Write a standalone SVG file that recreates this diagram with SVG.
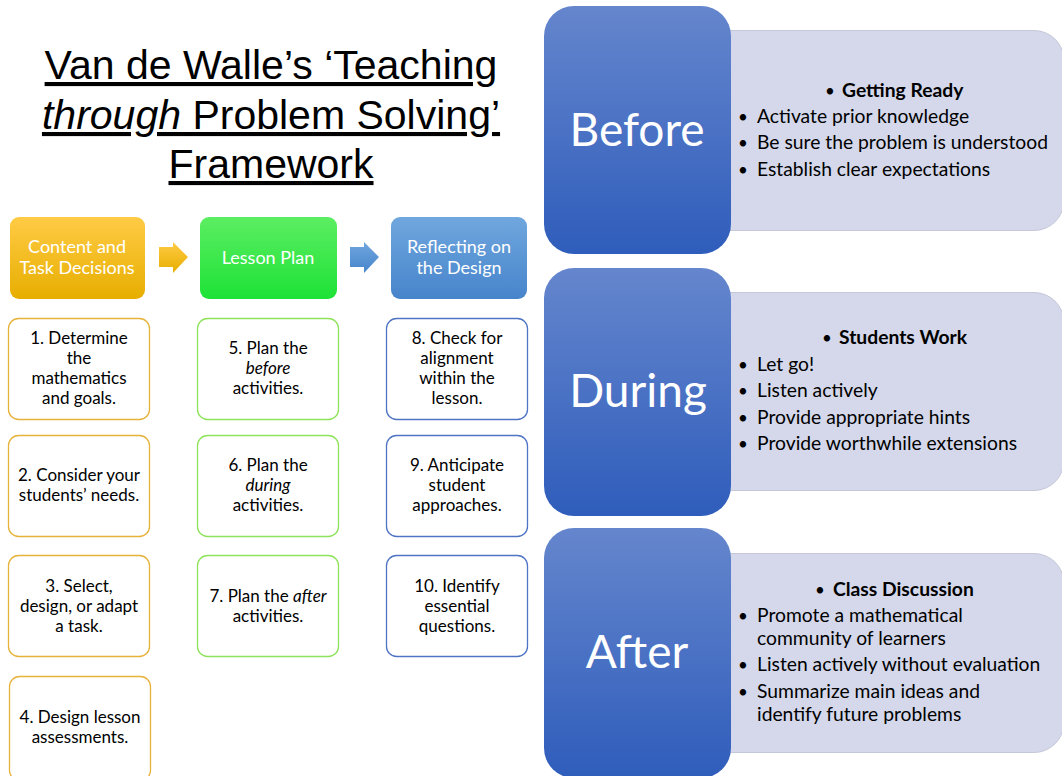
<svg xmlns="http://www.w3.org/2000/svg" width="1062" height="776" viewBox="0 0 1062 776">
<defs>
<linearGradient id="gY" x1="0" y1="0" x2="0" y2="1"><stop offset="0" stop-color="#ffcb45"/><stop offset="1" stop-color="#e7ae00"/></linearGradient>
<linearGradient id="gG" x1="0" y1="0" x2="0" y2="1"><stop offset="0" stop-color="#5cee62"/><stop offset="1" stop-color="#1de236"/></linearGradient>
<linearGradient id="gB" x1="0" y1="0" x2="0" y2="1"><stop offset="0" stop-color="#70a7de"/><stop offset="1" stop-color="#4684cb"/></linearGradient>
<linearGradient id="gD" x1="0" y1="0" x2="0" y2="1"><stop offset="0" stop-color="#6586cd"/><stop offset="1" stop-color="#2f5dbb"/></linearGradient>
<style>
.title{font-family:"Liberation Sans",Arial,sans-serif;font-size:41px;fill:#000;text-anchor:middle;text-decoration:underline}
.hd{font-family:Lato,"Open Sans",sans-serif;font-size:18px;fill:#fff;text-anchor:middle}
.bx{font-family:Lato,"Open Sans",sans-serif;font-size:17px;fill:#000;text-anchor:middle}
.cy{fill:#fff;stroke:#e6b23a;stroke-width:1.3}
.cg{fill:#fff;stroke:#8ee35c;stroke-width:1.3}
.cb{fill:#fff;stroke:#4f74c4;stroke-width:1.3}
.blue{fill:url(#gD)}
.panel{fill:#d4d8ea;stroke:#c4c8d8;stroke-width:1}
.big{font-family:Lato,"Open Sans",sans-serif;font-size:46px;fill:#fff;text-anchor:middle}
.pt{font-family:Lato,"Open Sans",sans-serif;font-size:19.3px;fill:#000}
.ph{font-family:Lato,"Open Sans",sans-serif;font-size:19.3px;font-weight:bold;fill:#000}
.bl{font-family:Lato,"Open Sans",sans-serif;font-size:17px;fill:#000}
</style>
</defs>
<rect width="1062" height="776" fill="#fff"/>

<g id="title">
<text class="title" x="271" y="79">Van de Walle’s ‘Teaching</text>
<text class="title" x="271" y="129"><tspan font-style="italic">through</tspan> Problem Solving’</text>
<text class="title" x="271" y="178">Framework</text>
</g>

<g id="connectors">
<path d="M159,247 H173 V242 L188,257 L173,273 V267 H159 Z" fill="url(#gY)"/>
<path d="M350,247 H364 V242 L379,257 L364,273 V267 H350 Z" fill="url(#gB)"/>
</g>

<g id="h-content">
<rect x="10" y="217" width="135" height="82" rx="9" fill="url(#gY)"/>
<text class="hd" x="77" y="253">Content and</text>
<text class="hd" x="77" y="274">Task Decisions</text>
</g>
<g id="h-lesson">
<rect x="200" y="217" width="137" height="82" rx="9" fill="url(#gG)"/>
<text class="hd" x="268" y="264">Lesson Plan</text>
</g>
<g id="h-reflect">
<rect x="391" y="217" width="136" height="82" rx="9" fill="url(#gB)"/>
<text class="hd" x="459" y="253">Reflecting on</text>
<text class="hd" x="459" y="274">the Design</text>
</g>

<g id="step1"><rect class="cy" x="8.5" y="318.5" width="141" height="101" rx="10"/>
<text class="bx" x="79" y="344">1. Determine</text><text class="bx" x="79" y="364">the</text><text class="bx" x="79" y="384">mathematics</text><text class="bx" x="79" y="404">and goals.</text></g>
<g id="step2"><rect class="cy" x="8.5" y="435.5" width="141" height="101" rx="10"/>
<text class="bx" x="79" y="481">2. Consider your</text><text class="bx" x="79" y="501">students’ needs.</text></g>
<g id="step3"><rect class="cy" x="8.5" y="555.5" width="141" height="101" rx="10"/>
<text class="bx" x="79" y="592">3. Select,</text><text class="bx" x="79" y="612">design, or adapt</text><text class="bx" x="79" y="632">a task.</text></g>
<g id="step4"><rect class="cy" x="9.5" y="676.5" width="141" height="104" rx="10"/>
<text class="bx" x="80" y="723">4. Design lesson</text><text class="bx" x="80" y="743">assessments.</text></g>

<g id="step5"><rect class="cg" x="197.5" y="318.5" width="141" height="101" rx="10"/>
<text class="bx" x="268" y="354">5. Plan the</text><text class="bx" x="268" y="374" font-style="italic">before</text><text class="bx" x="268" y="394">activities.</text></g>
<g id="step6"><rect class="cg" x="197.5" y="435.5" width="141" height="101" rx="10"/>
<text class="bx" x="268" y="471">6. Plan the</text><text class="bx" x="268" y="491" font-style="italic">during</text><text class="bx" x="268" y="511">activities.</text></g>
<g id="step7"><rect class="cg" x="197.5" y="555.5" width="141" height="101" rx="10"/>
<text class="bx" x="268" y="602">7. Plan the <tspan font-style="italic">after</tspan></text><text class="bx" x="268" y="622">activities.</text></g>

<g id="step8"><rect class="cb" x="386.5" y="318.5" width="141" height="101" rx="10"/>
<text class="bx" x="457" y="344">8. Check for</text><text class="bx" x="457" y="364">alignment</text><text class="bx" x="457" y="384">within the</text><text class="bx" x="457" y="404">lesson.</text></g>
<g id="step9"><rect class="cb" x="386.5" y="435.5" width="141" height="101" rx="10"/>
<text class="bx" x="457" y="471">9. Anticipate</text><text class="bx" x="457" y="491">student</text><text class="bx" x="457" y="511">approaches.</text></g>
<g id="step10"><rect class="cb" x="386.5" y="555.5" width="141" height="101" rx="10"/>
<text class="bx" x="457" y="592">10. Identify</text><text class="bx" x="457" y="612">essential</text><text class="bx" x="457" y="632">questions.</text></g>

<g id="before">
<rect class="panel" x="700" y="30.5" width="364" height="200" rx="30"/>
<rect class="blue" x="544" y="6" width="187" height="248" rx="30"/>
<text class="big" x="637" y="146">Before</text>
<text class="bl" x="825" y="97">•</text><text class="ph" x="842" y="97">Getting Ready</text>
<text class="bl" x="738" y="123">•</text><text class="pt" x="757" y="123">Activate prior knowledge</text>
<text class="bl" x="738" y="149">•</text><text class="pt" x="757" y="149">Be sure the problem is understood</text>
<text class="bl" x="738" y="176">•</text><text class="pt" x="757" y="176">Establish clear expectations</text>
</g>

<g id="during">
<rect class="panel" x="700" y="292.5" width="364" height="198" rx="30"/>
<rect class="blue" x="544" y="268" width="187" height="248" rx="30"/>
<text class="big" x="638" y="407">During</text>
<text class="bl" x="822" y="344">•</text><text class="ph" x="839" y="344">Students Work</text>
<text class="bl" x="738" y="371">•</text><text class="pt" x="757" y="371">Let go!</text>
<text class="bl" x="738" y="397">•</text><text class="pt" x="757" y="397">Listen actively</text>
<text class="bl" x="738" y="424">•</text><text class="pt" x="757" y="424">Provide appropriate hints</text>
<text class="bl" x="738" y="450">•</text><text class="pt" x="757" y="450">Provide worthwhile extensions</text>
</g>

<g id="after">
<rect class="panel" x="700" y="553.5" width="364" height="199" rx="30"/>
<rect class="blue" x="544" y="528" width="187" height="250" rx="30"/>
<text class="big" x="637" y="668">After</text>
<text class="bl" x="815" y="596">•</text><text class="ph" x="833" y="596">Class Discussion</text>
<text class="bl" x="738" y="622">•</text><text class="pt" x="757" y="622">Promote a mathematical</text>
<text class="pt" x="757" y="645">community of learners</text>
<text class="bl" x="738" y="671">•</text><text class="pt" x="757" y="671">Listen actively without evaluation</text>
<text class="bl" x="738" y="698">•</text><text class="pt" x="757" y="698">Summarize main ideas and</text>
<text class="pt" x="757" y="721">identify future problems</text>
</g>
</svg>
